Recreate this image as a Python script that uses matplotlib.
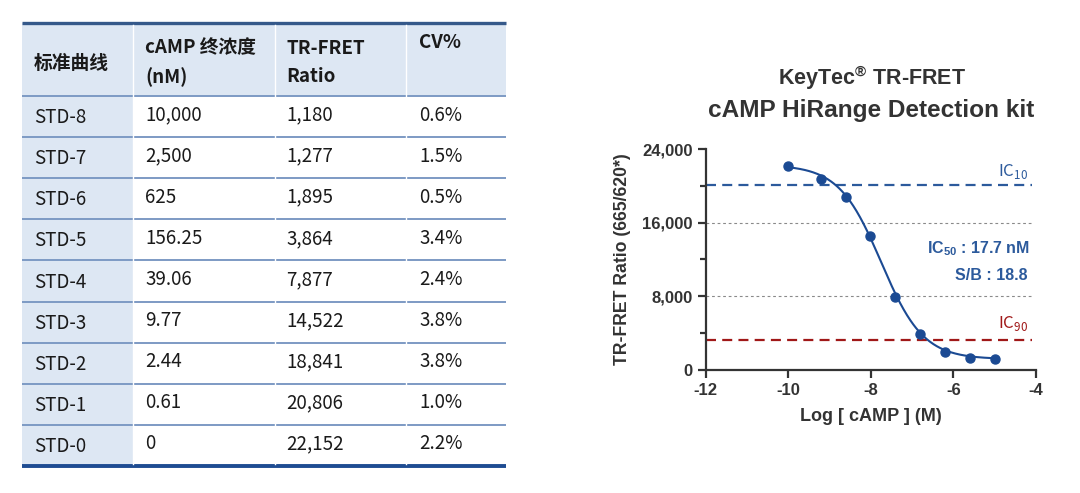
import numpy as np
import matplotlib
matplotlib.use("Agg")
import matplotlib.pyplot as plt
from matplotlib.patches import Rectangle
from matplotlib.ticker import MultipleLocator, FuncFormatter

# table data
std_names = ["STD-8", "STD-7", "STD-6", "STD-5", "STD-4", "STD-3", "STD-2", "STD-1", "STD-0"]
conc_labels = ["10,000", "2,500", "625", "156.25", "39.06", "9.77", "2.44", "0.61", "0"]
conc_nM = [10000, 2500, 625, 156.25, 39.06, 9.77, 2.44, 0.61, 0]
ratio = [1180, 1277, 1895, 3864, 7877, 14522, 18841, 20806, 22152]
cv_labels = ["0.6%", "1.5%", "0.5%", "3.4%", "2.4%", "3.8%", "3.8%", "1.0%", "2.2%"]
headers = [["标准曲线"], ["cAMP 终浓度", "(nM)"], ["TR-FRET", "Ratio"], ["CV%"]]

# curve fit parameters (4PL)
ic50_nM = 17.7
fit_top = 22300
fit_bottom = 1150
hill = 0.85
zero_pos = -10  # STD-0 is drawn at log = -10
ic10_level = 20100
ic90_level = 3200
grid_levels = [8000, 16000]

CJK = ["Noto Sans CJK SC", "DejaVu Sans"]
ARIAL = "Liberation Sans"
plt.rcParams["mathtext.fontset"] = "custom"
plt.rcParams["axes.unicode_minus"] = False

fig = plt.figure(figsize=(10.8, 4.93), dpi=100)

# ---------------- table (pixel coords) ----------------
ax_t = fig.add_axes([0, 0, 1, 1])
ax_t.set_xlim(0, 1080)
ax_t.set_ylim(493, 0)
ax_t.axis("off")

col_x = [22, 132.5, 274.5, 406, 506]
top_y, head_y, bot_y = 23, 96, 466
row_h = (bot_y - head_y) / len(std_names)
light = "#dde7f3"

ax_t.add_patch(Rectangle((col_x[0], top_y), col_x[-1] - col_x[0], head_y - top_y,
                         facecolor=light, edgecolor="none"))
ax_t.add_patch(Rectangle((col_x[0], head_y), col_x[1] - col_x[0], bot_y - head_y,
                         facecolor=light, edgecolor="none"))
for k in range(len(std_names)):
    y = head_y + k * row_h
    ax_t.plot([col_x[0], col_x[-1]], [y, y], color="#7d9ac4", lw=1.4, solid_capstyle="butt")
ax_t.plot([col_x[0], col_x[-1]], [top_y, top_y], color="#35598a", lw=2.4, solid_capstyle="butt")
ax_t.plot([col_x[0], col_x[-1]], [bot_y, bot_y], color="#1e4c92", lw=2.8, solid_capstyle="butt")
for cx in col_x[1:-1]:
    ax_t.plot([cx, cx], [top_y + 2, bot_y - 2], color="white", lw=1.0)

txt_x = [34, 145, 286.5, 419]
tcol = "#1a1a1a"
fs = 13.5
ax_t.text(txt_x[0], 63, headers[0][0], family=CJK, fontsize=fs, weight="bold",
          color=tcol, va="center")
for j in (1, 2):
    ax_t.text(txt_x[j], 48, headers[j][0], family=CJK, fontsize=fs, weight="bold",
              color=tcol, va="center")
    ax_t.text(txt_x[j], 77, headers[j][1], family=CJK, fontsize=fs, weight="bold",
              color=tcol, va="center")
ax_t.text(txt_x[3], 42, headers[3][0], family=CJK, fontsize=fs, weight="bold",
          color=tcol, va="center")

for i in range(len(std_names)):
    yc = head_y + (i + 0.5) * row_h
    ax_t.text(txt_x[0], yc + 1, std_names[i], family=CJK, fontsize=fs, color=tcol, va="center")
    for j, lab in zip((1, 2, 3), (conc_labels[i], f"{ratio[i]:,}", cv_labels[i])):
        ax_t.text(txt_x[j], yc - 1.5, lab, family=CJK, fontsize=fs, color=tcol, va="center")

# ---------------- chart ----------------
blue = "#1b4a93"
dark = "#333333"
ax = fig.add_axes([0.6534, 0.2501, 0.3059, 0.4471])
ax.patch.set_alpha(0)

log_conc = [np.log10(c * 1e-9) if c > 0 else zero_pos for c in conc_nM]
xs = np.linspace(zero_pos, max(log_conc), 300)
log_ic50 = np.log10(ic50_nM * 1e-9)
fit = fit_bottom + (fit_top - fit_bottom) / (1 + 10 ** (hill * (xs - log_ic50)))

for lv in grid_levels:
    ax.plot([-12, -4.1], [lv, lv], color="#8a8a8a", lw=0.8, dashes=(2.5, 2.5), zorder=1)
ax.plot([-12, -4.1], [ic10_level, ic10_level], color="#2c5a9c", lw=1.6, dashes=(4.5, 2.8), zorder=2)
ax.plot([-12, -4.1], [ic90_level, ic90_level], color="#a01818", lw=1.6, dashes=(4.5, 2.8), zorder=2)
ax.plot(xs, fit, color=blue, lw=1.5, zorder=3)
ax.plot(log_conc, ratio, "o", color=blue, ms=6.5, zorder=4, clip_on=False)

ax.set_xlim(-12, -4)
ax.set_ylim(0, 24000)
ax.xaxis.set_major_locator(MultipleLocator(2))
ax.yaxis.set_major_locator(MultipleLocator(8000))
ax.yaxis.set_minor_locator(MultipleLocator(4000))
ax.yaxis.set_major_formatter(FuncFormatter(lambda v, p: f"{int(v):,}"))
for s in ("top", "right"):
    ax.spines[s].set_visible(False)
for s in ("left", "bottom"):
    ax.spines[s].set_color(dark)
    ax.spines[s].set_linewidth(1.6)
ax.tick_params(axis="both", which="major", length=6, width=1.6, color=dark,
               labelcolor=dark, labelsize=12)
ax.tick_params(axis="y", which="minor", length=4, width=1.6, color=dark)
for lab in ax.get_xticklabels() + ax.get_yticklabels():
    lab.set_family(ARIAL)
    lab.set_weight("bold")

ax.set_xlabel("Log [ cAMP ] (M)", family=ARIAL, weight="bold", fontsize=13,
              color=dark, labelpad=7)
ax.set_ylabel("TR-FRET Ratio (665/620*)", family=ARIAL, weight="bold", fontsize=12.7,
              color=dark, labelpad=8)

ax.text(-4.2, 21100, r"IC$_{\mathregular{10}}$", family=CJK, fontsize=12, color="#2c5a9c",
        ha="right", va="baseline")
ax.text(-4.2, 4500, r"IC$_{\mathregular{90}}$", family=CJK, fontsize=12, color="#a01818",
        ha="right", va="baseline")
ax.text(-4.15, 12700, r"IC$_{\mathregular{50}}$ : 17.7 nM", family=ARIAL, weight="bold",
        fontsize=11.5, color="#2c5a9c", ha="right", va="baseline")
ax.text(-4.2, 9800, "S/B : 18.8", family=ARIAL, weight="bold",
        fontsize=11.5, color="#2c5a9c", ha="right", va="baseline")

fig.text(872 / 1080, 1 - 78 / 493, r"KeyTec$^{\mathregular{®}}$ TR-FRET", family=ARIAL,
         weight="bold", fontsize=15.5, color=dark, ha="center", va="center")
fig.text(871 / 1080, 1 - 111 / 493, "cAMP HiRange Detection kit", family=ARIAL,
         weight="bold", fontsize=17.6, color=dark, ha="center", va="center")

fig.savefig("out.png", dpi=100)
